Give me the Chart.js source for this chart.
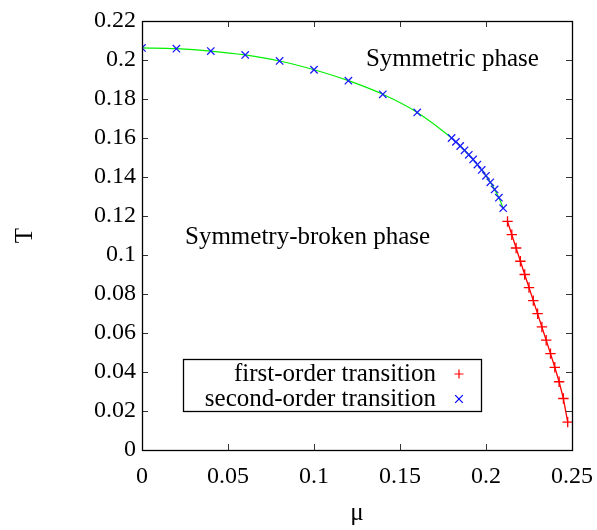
<!DOCTYPE html>
<html>
<head>
<meta charset="utf-8">
<script src="https://cdn.jsdelivr.net/npm/chart.js@4/dist/chart.umd.min.js"></script>
<style>
  html, body { margin: 0; padding: 0; background: #fff; }
  #c { display: block; }
</style>
</head>
<body>
<canvas id="c" width="597" height="530"></canvas>
<script>
// Phase boundary T(mu): first-order and second-order transition points
const muFirst = [0.2125, 0.2150, 0.2175, 0.2200, 0.2225, 0.2250, 0.2275, 0.2300,
                 0.2325, 0.2350, 0.2375, 0.2400, 0.2425, 0.2450, 0.2475];
const tFirst  = [0.1172, 0.1104, 0.1036, 0.0968, 0.0900, 0.0833, 0.0766, 0.0699,
                 0.0631, 0.0563, 0.0494, 0.0424, 0.0350, 0.0264, 0.0143];

const muSecond = [0, 0.02, 0.04, 0.06, 0.08, 0.10, 0.12, 0.14, 0.16,
                  0.1800, 0.1825, 0.1850, 0.1875, 0.1900, 0.1925, 0.1950,
                  0.1975, 0.2000, 0.2025, 0.2050, 0.2075, 0.2100];
const tSecond  = [0.2062, 0.2058, 0.2046, 0.2026, 0.1995, 0.1950, 0.1894, 0.1824, 0.1731,
                  0.1600, 0.1580, 0.1559, 0.1537, 0.1514, 0.1490, 0.1464,
                  0.1436, 0.1406, 0.1373, 0.1336, 0.1294, 0.1240];

const xTicks = [0, 0.05, 0.10, 0.15, 0.20, 0.25];
const yTicks = [0, 0.02, 0.04, 0.06, 0.08, 0.10, 0.12, 0.14, 0.16, 0.18, 0.20, 0.22];

const seriesLabels = ['first-order transition', 'second-order transition'];
const phaseLabels = [
  { text: 'Symmetric phase', mu: 0.1302, T: 0.2005 },
  { text: 'Symmetry-broken phase', mu: 0.0250, T: 0.1090 }
];

const FONT = '"Liberation Serif", "Times New Roman", serif';

const toPts = (xs, ys) => xs.map((x, i) => ({ x: x, y: ys[i] }));

function drawPlus(ctx, x, y, r) {
  ctx.beginPath();
  ctx.moveTo(x - r, y); ctx.lineTo(x + r, y);
  ctx.moveTo(x, y - r); ctx.lineTo(x, y + r);
  ctx.stroke();
}
function drawCross(ctx, x, y, r) {
  ctx.beginPath();
  ctx.moveTo(x - r, y - r); ctx.lineTo(x + r, y + r);
  ctx.moveTo(x - r, y + r); ctx.lineTo(x + r, y - r);
  ctx.stroke();
}

// Keep the plot area edges fixed (no extra room for overhanging tick labels)
function noOverhang(s) {
  s.paddingLeft = 0; s.paddingRight = 0; s.paddingTop = 0; s.paddingBottom = 0;
}

// Frame with inward, mirrored tick marks, phase labels and the key box
const framePlugin = {
  id: 'frame',
  afterDatasetsDraw(chart) {
    const { ctx, chartArea: a, scales } = chart;
    const xs = scales.x, ys = scales.y;
    ctx.save();
    // ticks
    ctx.strokeStyle = '#333';
    ctx.lineWidth = 1;
    const tl = 6;
    ctx.beginPath();
    xTicks.forEach(v => {
      const px = Math.round(xs.getPixelForValue(v)) + 0.5;
      ctx.moveTo(px, a.bottom); ctx.lineTo(px, a.bottom - tl);
      ctx.moveTo(px, a.top); ctx.lineTo(px, a.top + tl);
    });
    yTicks.forEach(v => {
      const py = Math.round(ys.getPixelForValue(v)) + 0.5;
      ctx.moveTo(a.left, py); ctx.lineTo(a.left + tl, py);
      ctx.moveTo(a.right, py); ctx.lineTo(a.right - tl, py);
    });
    ctx.stroke();
    // border
    ctx.strokeStyle = '#000';
    ctx.lineWidth = 1.3;
    ctx.strokeRect(Math.round(a.left) + 0.5, Math.round(a.top) + 0.5,
                   Math.round(a.right - a.left), Math.round(a.bottom - a.top));

    // phase labels
    ctx.fillStyle = '#000';
    ctx.font = '25px ' + FONT;
    ctx.textBaseline = 'middle';
    ctx.textAlign = 'left';
    phaseLabels.forEach(l => {
      ctx.fillText(l.text, xs.getPixelForValue(l.mu), ys.getPixelForValue(l.T));
    });

    // key
    const bx = a.left + 41, by = a.top + 338, bw = 298, bh = 52;
    ctx.fillStyle = '#fff';
    ctx.fillRect(bx, by, bw, bh);
    ctx.strokeStyle = '#000';
    ctx.lineWidth = 1.3;
    ctx.strokeRect(Math.round(bx) + 0.5, Math.round(by) + 0.5, bw, bh);
    ctx.fillStyle = '#000';
    ctx.textAlign = 'right';
    ctx.font = '25px ' + FONT;
    const textRight = bx + 253, markX = bx + 276;
    const rows = [by + 15, by + 40];
    ctx.fillText(seriesLabels[0], textRight, rows[0]);
    ctx.fillText(seriesLabels[1], textRight, rows[1]);
    ctx.lineWidth = 1.2;
    ctx.strokeStyle = '#ff0000';
    drawPlus(ctx, markX, rows[0], 4.5);
    ctx.strokeStyle = '#0000ff';
    drawCross(ctx, markX, rows[1], 3.8);
    ctx.restore();
  }
};

new Chart(document.getElementById('c'), {
  type: 'scatter',
  data: {
    datasets: [
      {
        label: seriesLabels[1],
        data: toPts(muSecond, tSecond),
        showLine: true,
        cubicInterpolationMode: 'monotone',
        borderColor: '#00f000',
        borderWidth: 1.2,
        pointStyle: 'crossRot',
        pointRadius: 5.2,
        pointBorderColor: '#1a1aff',
        pointBorderWidth: 1.3,
        pointBackgroundColor: 'transparent'
      },
      {
        label: seriesLabels[0],
        data: toPts(muFirst, tFirst),
        showLine: true,
        tension: 0,
        borderColor: '#ff0000',
        borderWidth: 1.3,
        pointStyle: 'cross',
        pointRadius: 5.2,
        pointBorderColor: '#ff0000',
        pointBorderWidth: 1.3,
        pointBackgroundColor: 'transparent'
      }
    ]
  },
  options: {
    responsive: false,
    animation: false,
    devicePixelRatio: 1,
    layout: { padding: { top: 21, right: 25, bottom: 0, left: 0 } },
    plugins: {
      legend: { display: false },
      tooltip: { enabled: false }
    },
    scales: {
      x: {
        type: 'linear',
        min: 0, max: 0.25,
        afterBuildTicks: s => { s.ticks = xTicks.map(v => ({ value: v })); },
        afterFit: s => { s.height = 80; noOverhang(s); },
        grid: { display: false, drawTicks: false },
        border: { display: false },
        ticks: {
          padding: 12,
          color: '#000',
          font: { family: FONT, size: 24 },
          maxRotation: 0,
          callback: v => String(+v.toFixed(2))
        },
        title: {
          display: true,
          text: 'μ',
          color: '#000',
          font: { family: FONT, size: 25 },
          padding: { top: 0, bottom: 2 }
        }
      },
      y: {
        type: 'linear',
        min: 0, max: 0.22,
        afterBuildTicks: s => { s.ticks = yTicks.map(v => ({ value: v })); },
        afterFit: s => { s.width = 142; noOverhang(s); },
        grid: { display: false, drawTicks: false },
        border: { display: false },
        ticks: {
          padding: 6,
          color: '#000',
          font: { family: FONT, size: 24 },
          callback: v => String(+v.toFixed(2))
        },
        title: {
          display: true,
          text: 'T',
          color: '#000',
          font: { family: FONT, size: 25 },
          padding: { top: 10, bottom: 0 }
        }
      }
    }
  },
  plugins: [framePlugin]
});
</script>
</body>
</html>
